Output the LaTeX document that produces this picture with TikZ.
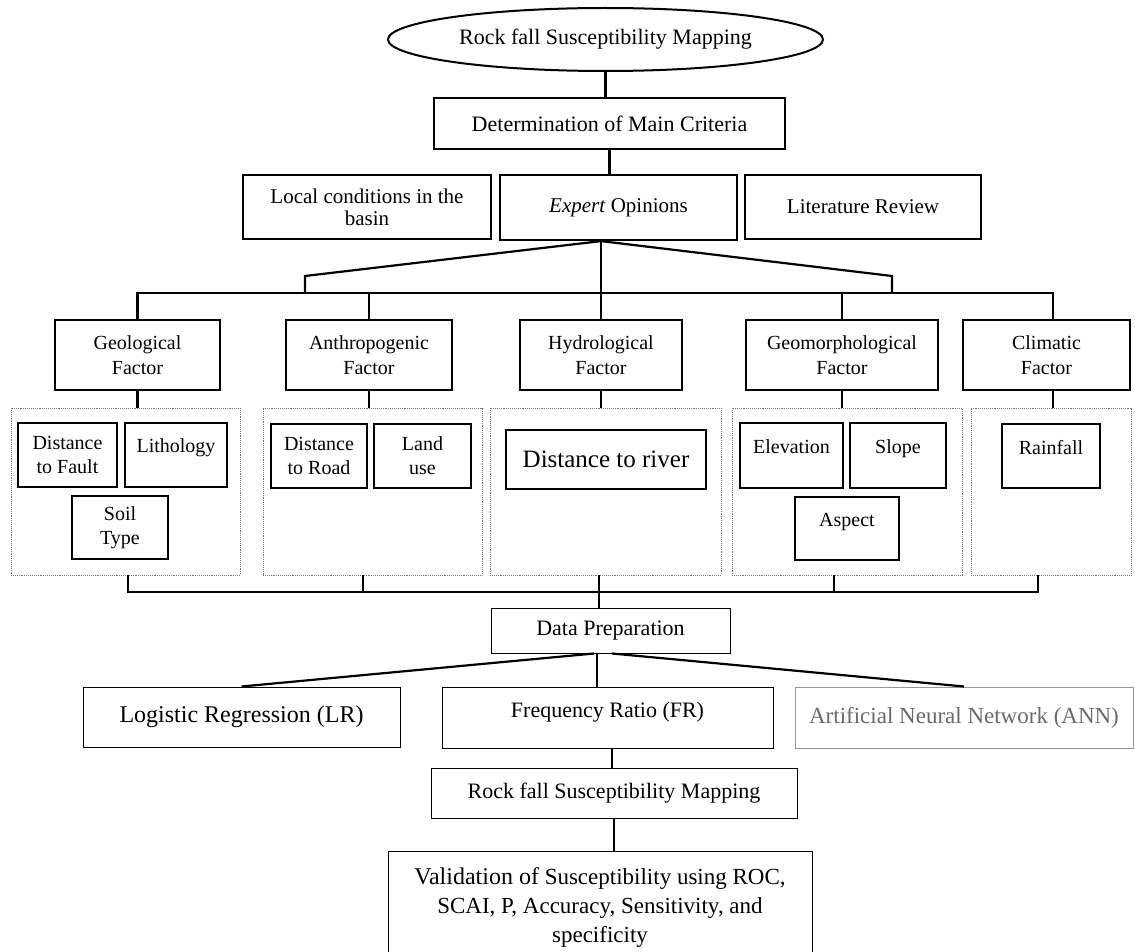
\documentclass[tikz,border=0pt]{standalone}
\usepackage{fontspec}
\setmainfont{Liberation Serif}
\usetikzlibrary{positioning,shapes.geometric}
\definecolor{anngray}{RGB}{105,105,105}
\definecolor{grpgray}{RGB}{120,120,120}
\newcommand{\fsz}[2]{\fontsize{#1}{#2}\selectfont}

\begin{document}
\begin{tikzpicture}[x=1pt,y=-1pt,
  box/.style={rectangle,draw=black,line width=2.2pt,inner sep=0pt,align=center},
  thinbox/.style={rectangle,draw=black,line width=1pt,inner sep=0pt,align=center},
  factor/.style={box,minimum height=70,font=\fsz{20}{25}},
  grp/.style={rectangle,draw=grpgray,densely dotted,line width=0.9pt,minimum height=167},
  sub/.style={box,font=\fsz{20}{24}},
  subtop/.style={box,font=\fsz{20}{18}},
  conn/.style={draw=black,line width=2.2pt}
]
\useasboundingbox (0,0) rectangle (1135,952);
\clip (0,0) rectangle (1135,952);

% top of the chart
\node[ellipse,draw,line width=2pt,inner sep=0pt,minimum width=435,minimum height=63,font=\fsz{22}{26}] (top) at (605.5,39.5) {Rock fall Susceptibility Mapping};
\node[box,minimum width=351,minimum height=51,font=\fsz{22}{26}] (crit) at (609.5,123.5) {Determination of Main Criteria};

\node[box,minimum width=248,minimum height=64,font=\fsz{21}{22}] (local) at (367,207) {Local conditions in the\\basin};
\node[box,minimum width=237,minimum height=65,font=\fsz{21}{22}] (expert) at (618.5,207.5) {\textit{Expert} Opinions};
\node[box,minimum width=236,minimum height=64,font=\fsz{21}{22}] (litrev) at (863,207) {Literature Review};

% factors
\node[factor,minimum width=165] (geo) at (137.5,355) {Geological\\Factor};
\node[factor,minimum width=166] (anthro) at (369,355) {Anthropogenic\\Factor};
\node[factor,minimum width=162] (hydro) at (601,355) {Hydrological\\Factor};
\node[factor,minimum width=192] (geomorph) at (842,355) {Geomorphological\\Factor};
\node[factor,minimum width=167] (clim) at (1046.5,355) {Climatic\\Factor};

% dotted groups
\node[grp,minimum width=229] (ggeo) at (125.5,491.5) {};
\node[grp,minimum width=219] (ganthro) at (372.5,491.5) {};
\node[grp,minimum width=231] (ghydro) at (605.5,491.5) {};
\node[grp,minimum width=230] (ggeomorph) at (847,491.5) {};
\node[grp,minimum width=160] (gclim) at (1051,491.5) {};

% sub-factors
\node[sub,minimum width=99,minimum height=64] (fault) at (67.5,455) {Distance\\to Fault};
\node[subtop,minimum width=102,minimum height=64] (litho) at (176,455) {Lithology\\~};
\node[sub,minimum width=96,minimum height=63] (soil) at (120,527.5) {Soil\\Type};
\node[sub,minimum width=96,minimum height=64] (road) at (319,456) {Distance\\to Road};
\node[sub,minimum width=97,minimum height=64] (landuse) at (422.5,456) {Land\\use};
\node[box,minimum width=200,minimum height=59,font=\fsz{25}{28}] (river) at (606,459.5) {Distance to river};
\node[subtop,minimum width=103,minimum height=65] (elev) at (791.5,455.5) {Elevation\\~};
\node[subtop,minimum width=96,minimum height=65] (slope) at (898,455.5) {Slope\\~};
\node[subtop,minimum width=104,minimum height=63] (aspect) at (847,528.5) {Aspect\\~};
\node[subtop,minimum width=98,minimum height=64] (rain) at (1051,456) {Rainfall\\~};

% methods and results
\node[thinbox,minimum width=239,minimum height=45,font=\fsz{22}{26}] (prep) at (610.5,630.5) {Data Preparation};
\node[thinbox,minimum width=317,minimum height=60,font=\fsz{24}{28}] (lr) at (241.5,717) {Logistic Regression (LR)};
\node[thinbox,minimum width=331,minimum height=61,font=\fsz{22}{15}] (fr) at (607.5,717.5) {Frequency Ratio (FR)\\~};
\node[thinbox,draw=anngray!70,text=anngray,minimum width=338,minimum height=61,font=\fsz{23}{27}] (ann) at (964,717.5) {Artificial Neural Network (ANN)};
\node[thinbox,minimum width=366,minimum height=50,font=\fsz{22}{26}] (rfsm) at (614,793) {Rock fall Susceptibility Mapping};
\node[thinbox,anchor=north,minimum width=424,minimum height=112,font=\fsz{23}{29}] (valid) at (600,851) {{\fsz{24}{29}Validation of} Susceptibility using ROC,\\SCAI, P, Accuracy, Sensitivity, and\\specificity};

% connectors
\draw[conn] (top.south) -- (top.south |- crit.north);
\draw[conn] (crit.south) -- (crit.south |- expert.north);
\coordinate (apex) at ([xshift=-17.5pt]expert.south);
\coordinate (fanL) at (305,276);
\coordinate (fanR) at (892,276);
\coordinate (busL) at (137.5,293);
\coordinate (busR) at (1053,293);
\draw[conn] (apex) -- (fanL) -- (fanL |- busL);
\draw[conn] (apex) -- (fanR) -- (fanR |- busL);
\draw[conn] (apex) -- (apex |- hydro.north);
\draw[conn] (geo.north) -- (busL) -- (busR) -- (busR |- clim.north);
\foreach \f in {anthro,geomorph}
  \draw[conn] (\f.north |- busL) -- (\f.north);
\foreach \f/\g in {geo/ggeo,anthro/ganthro,hydro/ghydro,geomorph/ggeomorph}
  \draw[conn] (\f.south) -- (\f.south |- \g.north);
\draw[conn] ([xshift=6.5pt]clim.south) -- ([xshift=6.5pt]clim.south |- gclim.north);

\coordinate (bus2L) at (128,592);
\coordinate (bus2R) at (1038,592);
\draw[conn] ([xshift=2.5pt]ggeo.south) -- (bus2L) -- (bus2R) -- ([xshift=-13pt]gclim.south);
\draw[conn] ([xshift=-9.5pt]ganthro.south) -- ([xshift=-9.5pt]ganthro.south |- bus2L);
\draw[conn] ([xshift=-13pt]ggeomorph.south) -- ([xshift=-13pt]ggeomorph.south |- bus2L);
\draw[conn] ([xshift=-6.5pt]ghydro.south) -- ([xshift=-6.5pt]ghydro.south |- prep.north);

\draw[conn] ([xshift=-16.5pt]prep.south) -- (lr.north);
\draw[conn] ([xshift=-13.5pt]prep.south) -- ([xshift=-13.5pt]prep.south |- fr.north);
\draw[conn] ([xshift=1.5pt]prep.south) -- (ann.north);
\draw[conn] ([xshift=4.5pt]fr.south) -- ([xshift=4.5pt]fr.south |- rfsm.north);
\draw[conn] (rfsm.south) -- (rfsm.south |- valid.north);
\end{tikzpicture}
\end{document}
